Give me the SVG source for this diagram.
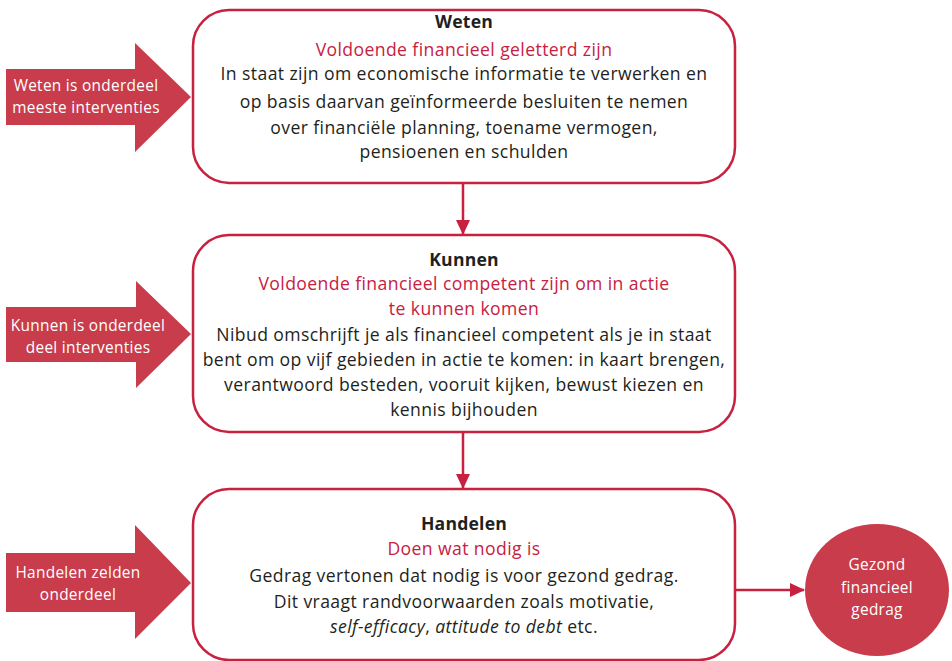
<svg xmlns="http://www.w3.org/2000/svg" width="952" height="661" viewBox="0 0 952 661">
<style>
.box{fill:#fff;stroke:#C8203F;stroke-width:2.5}
.big{fill:#C83C4B}
.t{font-family:"Open Sans",Lato,sans-serif;font-size:17.6px;letter-spacing:0.4px;fill:#231F20;text-anchor:middle}
.h{font-weight:bold;letter-spacing:0.2px}
.r{fill:#C8203F}
.w{font-family:"Open Sans",Lato,sans-serif;font-size:15.4px;letter-spacing:0.3px;fill:#fff;text-anchor:middle}
.c{stroke:#C8203F;stroke-width:2.5;fill:none}
</style>
<defs>
<marker id="ah" markerWidth="16" markerHeight="16" refX="14" refY="7" orient="auto" markerUnits="userSpaceOnUse">
<path d="M0,0 L15,7 L0,14 Z" fill="#C8203F"/>
</marker>
</defs>
<g id="arrow-weten">
<path class="big" d="M6,69 H135 V43 L191,97 L135,152 V125 H6 Z"/>
<text class="w" x="86" y="91">Weten is onderdeel</text>
<text class="w" x="86" y="113">meeste interventies</text>
</g>
<g id="arrow-kunnen">
<path class="big" d="M6,307 H136 V281 L191,334 L136,388 V362 H6 Z"/>
<text class="w" x="88" y="331">Kunnen is onderdeel</text>
<text class="w" x="88" y="353">deel interventies</text>
</g>
<g id="arrow-handelen">
<path class="big" d="M6,553 H135 V525 L191,583 L135,639 V612 H6 Z"/>
<text class="w" x="78" y="578">Handelen zelden</text>
<text class="w" x="78" y="600">onderdeel</text>
</g>
<g id="weten">
<rect class="box" x="193" y="10" width="542" height="173" rx="36"/>
<text class="t h" x="464" y="28">Weten</text>
<text class="t r" x="464" y="56">Voldoende financieel geletterd zijn</text>
<text class="t" x="464" y="80">In staat zijn om economische informatie te verwerken en</text>
<text class="t" x="464" y="108">op basis daarvan geïnformeerde besluiten te nemen</text>
<text class="t" x="464" y="134">over financiële planning, toename vermogen,</text>
<text class="t" x="464" y="158">pensioenen en schulden</text>
</g>
<g id="kunnen">
<rect class="box" x="193" y="235" width="542" height="197" rx="36"/>
<text class="t h" x="464" y="266">Kunnen</text>
<text class="t r" x="464" y="290">Voldoende financieel competent zijn om in actie</text>
<text class="t r" x="464" y="315">te kunnen komen</text>
<text class="t" x="464" y="341">Nibud omschrijft je als financieel competent als je in staat</text>
<text class="t" x="464" y="366">bent om op vijf gebieden in actie te komen: in kaart brengen,</text>
<text class="t" x="464" y="391">verantwoord besteden, vooruit kijken, bewust kiezen en</text>
<text class="t" x="464" y="416">kennis bijhouden</text>
</g>
<g id="handelen">
<rect class="box" x="193" y="489" width="542" height="171" rx="36"/>
<text class="t h" x="464" y="530">Handelen</text>
<text class="t r" x="464" y="555">Doen wat nodig is</text>
<text class="t" x="464" y="582">Gedrag vertonen dat nodig is voor gezond gedrag.</text>
<text class="t" x="464" y="608">Dit vraagt randvoorwaarden zoals motivatie,</text>
<text class="t" x="464" y="633"><tspan font-style="italic">self-efficacy</tspan>, <tspan font-style="italic">attitude to debt</tspan> etc.</text>
</g>
<g id="gezond">
<ellipse cx="877" cy="590" rx="72" ry="66" fill="#C83C4B"/>
<text class="w" x="877" y="570">Gezond</text>
<text class="w" x="877" y="593">financieel</text>
<text class="w" x="877" y="615">gedrag</text>
</g>
<g id="connectors">
<line class="c" x1="463" y1="184" x2="463" y2="234" marker-end="url(#ah)"/>
<line class="c" x1="463" y1="433" x2="463" y2="488" marker-end="url(#ah)"/>
<line class="c" x1="736" y1="590" x2="804" y2="590" marker-end="url(#ah)"/>
</g>
</svg>
